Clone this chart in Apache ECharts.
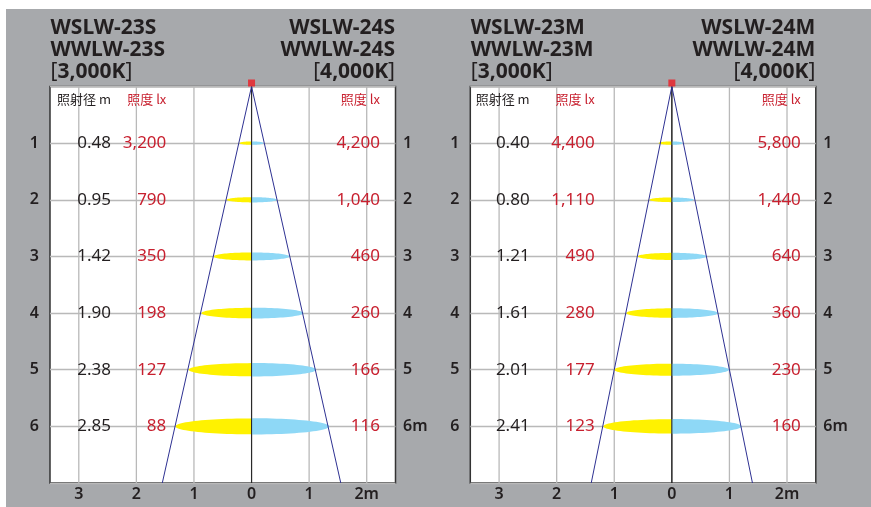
<!DOCTYPE html>
<html><head><meta charset="utf-8">
<script src="https://cdn.jsdelivr.net/npm/echarts@6/dist/echarts.min.js"></script>
<style>html,body{margin:0;padding:0;background:#fff}#c{width:871px;height:507px}</style>
</head><body><div id="c"></div>
<script>
// ---------- data ----------
const distances = [1, 2, 3, 4, 5, 6];
const yTickLabelsLeft = ['1', '2', '3', '4', '5', '6'];
const yTickLabelsRight = ['1', '2', '3', '4', '5', '6m'];
const xTickValues = [-3, -2, -1, 0, 1, 2];
const xTickLabels = ['3', '2', '1', '0', '1', '2m'];

// panel S (WSLW/WWLW-23S / 24S)
const titleS3000 = ['WSLW-23S', 'WWLW-23S', '3,000K'];
const titleS4000 = ['WSLW-24S', 'WWLW-24S', '4,000K'];
const diameterS = [0.48, 0.95, 1.42, 1.90, 2.38, 2.85];
const lux3000S = [3200, 790, 350, 198, 127, 88];
const lux4000S = [4200, 1040, 460, 260, 166, 116];
const spot3000S = [0.21, 0.43, 0.66, 0.87, 1.09, 1.32];
const spot4000S = [0.21, 0.44, 0.66, 0.90, 1.12, 1.35];
const beamS = [[-1.55, 7], [0, 0], [1.55, 7]];

// panel M (WSLW/WWLW-23M / 24M)
const titleM3000 = ['WSLW-23M', 'WWLW-23M', '3,000K'];
const titleM4000 = ['WSLW-24M', 'WWLW-24M', '4,000K'];
const diameterM = [0.40, 0.80, 1.21, 1.61, 2.01, 2.41];
const lux3000M = [4400, 1110, 490, 280, 177, 123];
const lux4000M = [5800, 1440, 640, 360, 230, 160];
const spot3000M = [0.23, 0.39, 0.59, 0.79, 1.00, 1.19];
const spot4000M = [0.19, 0.38, 0.60, 0.80, 0.99, 1.21];
const beamM = [[-1.40, 7], [0, 0], [1.40, 7]];

const headerDiameter = '照射径 m';
const headerLux = '照度 lx';

// ---------- styles / layout ----------
const FONT = "'Noto Sans', 'Noto Sans CJK JP', sans-serif";
const CJK = "'Noto Sans CJK JP', 'Noto Sans', sans-serif";
const DARK = '#231f20';
const RED = '#c8202f';
const GRIDC = '#b9b9b9';
const YELLOW = '#fff200';
const BLUE = '#8ed8f6';
const NAVY = '#2e3192';

const panels = [
  { left: 50, cols: [-2.44, -1.48, 2.23], dia: diameterS, l3: lux3000S, l4: lux4000S, s3: spot3000S, s4: spot4000S, beam: beamS, t3: titleS3000, t4: titleS4000 },
  { left: 470.3, cols: [-2.47, -1.34, 2.24], dia: diameterM, l3: lux3000M, l4: lux4000M, s3: spot3000M, s4: spot4000M, beam: beamM, t3: titleM3000, t4: titleM4000 }
];
const GW = 345.5, GT = 86.5, GH = 396.5;
const HEADER_ROW = 0.22;

const fmtLux = v => v.toLocaleString('en-US');

const grids = [], xAxes = [], yAxes = [], series = [], graphics = [];
graphics.push({ type: 'rect', z: -10, silent: true, shape: { x: 6, y: 9, width: 865, height: 498 }, style: { fill: '#a7a9ac' } });

function halfEllipse(side, color) {
  return function (params, api) {
    const y = api.value(0), hw = api.value(1);
    const c = api.coord([0, y]);
    const e = api.coord([side * hw, y]);
    const rx = Math.abs(e[0] - c[0]);
    const ry = Math.max(1.7, rx * 0.105);
    const pts = [];
    const N = 48;
    for (let k = 0; k <= N; k++) {
      const t = -Math.PI / 2 + Math.PI * k / N;
      pts.push([c[0] + side * rx * Math.cos(t), c[1] + ry * Math.sin(t)]);
    }
    return { type: 'polygon', shape: { points: pts }, style: { fill: color } };
  };
}

const axisFont = { color: DARK, fontSize: 16, fontFamily: FONT, fontWeight: 600 };

panels.forEach((p, i) => {
  grids.push({ left: p.left, top: GT, width: GW, height: GH, show: true, backgroundColor: '#fff', borderColor: '#333', borderWidth: 1.5 });
  xAxes.push({
    gridIndex: i, type: 'value', min: -3.5, max: 2.5, interval: 0.5,
    axisLine: { show: false }, axisTick: { show: false }, splitLine: { show: false },
    axisLabel: Object.assign({ margin: 3,
      formatter: v => { const k = xTickValues.indexOf(v); return k >= 0 ? xTickLabels[k] : ''; } }, axisFont)
  });
  yAxes.push({
    gridIndex: i, type: 'value', min: 0, max: 7, interval: 1, inverse: true, position: 'left',
    axisLine: { show: false }, axisTick: { show: false },
    splitLine: { show: true, lineStyle: { color: GRIDC, width: 1.3 } },
    axisLabel: Object.assign({ margin: 11,
      formatter: v => (v >= 1 && v <= 6) ? yTickLabelsLeft[v - 1] : '' }, axisFont)
  });
  yAxes.push({
    gridIndex: i, type: 'value', min: 0, max: 7, interval: 1, inverse: true, position: 'right',
    axisLine: { show: false }, axisTick: { show: false }, splitLine: { show: false },
    axisLabel: Object.assign({ margin: 7.5,
      formatter: v => (v >= 1 && v <= 6) ? yTickLabelsRight[v - 1] : '' }, axisFont)
  });
  const xi = i, yi = i * 2;
  // vertical grid lines
  series.push({
    type: 'custom', xAxisIndex: xi, yAxisIndex: yi, z: 1, silent: true,
    data: xTickValues.map(v => [v, 0]),
    renderItem: (params, api) => {
      const v = api.value(0);
      const a = api.coord([v, 0]), b = api.coord([v, 7]);
      return { type: 'line', shape: { x1: a[0], y1: a[1], x2: b[0], y2: b[1] },
        style: v === 0 ? { stroke: '#2a2a2a', lineWidth: 1.1 } : { stroke: GRIDC, lineWidth: 1.3 } };
    }
  });
  // spots
  series.push({ type: 'custom', xAxisIndex: xi, yAxisIndex: yi, z: 2, silent: true,
    data: distances.map((d, k) => [d, p.s3[k]]), renderItem: halfEllipse(-1, YELLOW) });
  series.push({ type: 'custom', xAxisIndex: xi, yAxisIndex: yi, z: 2, silent: true,
    data: distances.map((d, k) => [d, p.s4[k]]), renderItem: halfEllipse(1, BLUE) });
  // zero line over spots
  series.push({
    type: 'custom', xAxisIndex: xi, yAxisIndex: yi, z: 3, silent: true,
    data: [[0, 0]],
    renderItem: (params, api) => {
      const a = api.coord([0, 0]), b = api.coord([0, 7]);
      return { type: 'line', shape: { x1: a[0], y1: a[1], x2: b[0], y2: b[1] }, style: { stroke: '#2a2a2a', lineWidth: 1.1 } };
    }
  });
  // beam
  series.push({ type: 'line', xAxisIndex: xi, yAxisIndex: yi, z: 4, silent: true, symbol: 'none',
    data: p.beam, lineStyle: { color: NAVY, width: 1 } });
  // red source
  series.push({ type: 'scatter', xAxisIndex: xi, yAxisIndex: yi, z: 6, silent: true, clip: false,
    data: [[0, 0]], symbol: 'rect', symbolSize: 7, symbolOffset: [0, -3.5], itemStyle: { color: '#ed1c24' } });
  // value texts
  series.push({
    type: 'custom', xAxisIndex: xi, yAxisIndex: yi, z: 5, silent: true,
    data: distances.map((d, k) => [d, p.dia[k], p.l3[k], p.l4[k]]),
    renderItem: (params, api) => {
      const y = api.value(0);
      const pos = x => api.coord([x, y]);
      const mk = (x, txt, fill) => {
        const c = pos(x);
        return { type: 'text', x: c[0], y: c[1], style: { text: txt, align: 'right', verticalAlign: 'middle', font: '17px ' + FONT, fill: fill } };
      };
      return { type: 'group', children: [
        mk(p.cols[0], api.value(1).toFixed(2), DARK),
        mk(p.cols[1], fmtLux(api.value(2)), RED),
        mk(p.cols[2], fmtLux(api.value(3)), RED)
      ] };
    }
  });
  // column headers
  series.push({
    type: 'custom', xAxisIndex: xi, yAxisIndex: yi, z: 5, silent: true,
    data: [[0, HEADER_ROW]],
    renderItem: (params, api) => {
      const yv = api.value(1);
      const mk = (x, txt, fill) => {
        const c = api.coord([x, yv]);
        return { type: 'text', x: c[0], y: c[1], style: { text: txt, align: 'right', verticalAlign: 'middle', font: '13px ' + CJK, fill: fill } };
      };
      return { type: 'group', children: [
        mk(p.cols[0], headerDiameter, DARK),
        mk(p.cols[1], headerLux, RED),
        mk(p.cols[2], headerLux, RED)
      ] };
    }
  });
  // titles
  const rich = {
    h: { font: 'bold 21px ' + FONT, fill: DARK, lineHeight: 22 },
    b: { font: '21px ' + FONT, fill: DARK, lineHeight: 22 }
  };
  const ttl = t => `{h|${t[0]}}\n{h|${t[1]}}\n{b|[}{h|${t[2]}}{b|]}`;
  graphics.push({ type: 'text', x: p.left + 0.5, y: 17, silent: true,
    style: { text: ttl(p.t3), rich: rich, align: 'left', verticalAlign: 'top' } });
  graphics.push({ type: 'text', x: p.left + GW - 0.5, y: 17, silent: true,
    style: { text: ttl(p.t4), rich: rich, align: 'right', verticalAlign: 'top' } });
});

const chart = echarts.init(document.getElementById('c'), null, { renderer: 'canvas' });
chart.setOption({
  animation: false,
  backgroundColor: '#fff',
  grid: grids, xAxis: xAxes, yAxis: yAxes, series: series, graphic: graphics
});
</script></body></html>
